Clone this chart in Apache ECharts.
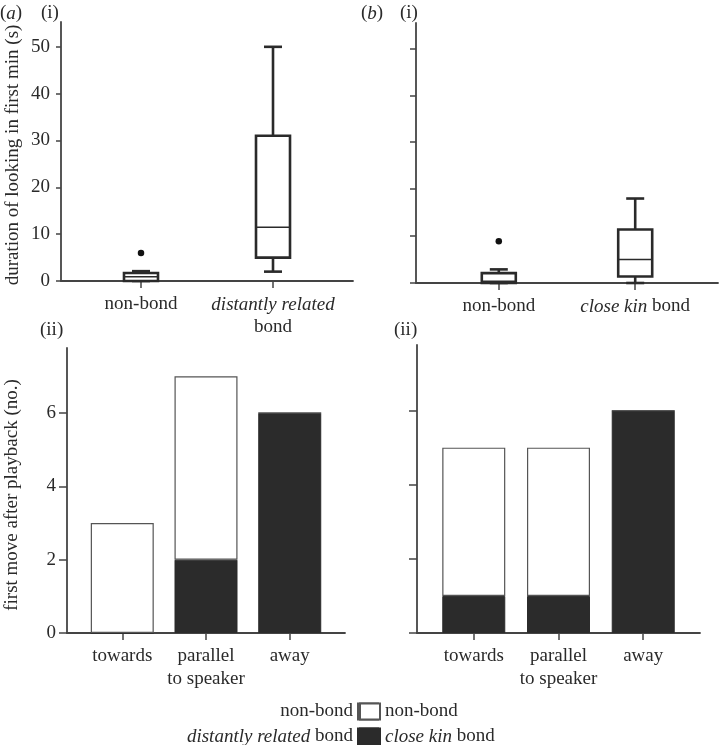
<!DOCTYPE html>
<html>
<head>
<meta charset="utf-8">
<script src="https://cdn.jsdelivr.net/npm/echarts@6/dist/echarts.min.js"></script>
<style>
html,body{margin:0;padding:0;background:#fff;}
#chart{width:719px;height:745px;}
</style>
</head>
<body>
<div id="chart"></div>
<script>
// ---- data ----
// (i) duration of looking in first min (s): [min, Q1, median, Q3, max]
const lookCatsA = ['non-bond', 'distantly related bond'];
const lookNonBondA = [0, 0, 0.9, 1.7, 2.1];
const lookDistantA = [2, 5, 11.5, 31, 50];
const lookOutliersA = [[1, 6]];

const lookCatsB = ['non-bond', 'close kin bond'];
const lookNonBondB = [0, 0, 0.35, 2.1, 2.9];
const lookCloseKinB = [0, 1.4, 5, 11.4, 18];
const lookOutliersB = [[1, 8.9]];

// (ii) first move after playback (no.)
const moveCats = ['towards', 'parallel\nto speaker', 'away'];
const moveNonBondA = [3, 5, 0];
const moveDistantA = [0, 2, 6];
const moveNonBondB = [4, 4, 0];
const moveCloseKinB = [1, 1, 6];

const lookTicks = [0, 10, 20, 30, 40, 50];
const moveTicks = [0, 2, 4, 6];

// ---- styles ----
const FONT = 'Liberation Serif';
const INK = '#2a2a2a';
const AXC = '#444';
const BLACK = '#2b2b2b';
const FS = 19;

function boxData(stats) { return stats.map((s, i) => [i + 1].concat(s)); }
// [value, position] so that the value column is the stacked one
function vp(vals) { return vals.map((v, i) => [v, i + 1]); }

function renderBox(params, api) {
  const x = api.value(0);
  const p = v => api.coord([x, v]);
  const lo = p(api.value(1)), q1 = p(api.value(2)), md = p(api.value(3)), q3 = p(api.value(4)), hi = p(api.value(5));
  const hw = 17, cw = 9;
  const ls = { stroke: INK, lineWidth: 2.6 };
  return {
    type: 'group',
    children: [
      { type: 'line', shape: { x1: lo[0], y1: lo[1], x2: q1[0], y2: q1[1] }, style: ls },
      { type: 'line', shape: { x1: q3[0], y1: q3[1], x2: hi[0], y2: hi[1] }, style: ls },
      { type: 'line', shape: { x1: hi[0] - cw, y1: hi[1], x2: hi[0] + cw, y2: hi[1] }, style: ls },
      { type: 'line', shape: { x1: lo[0] - cw, y1: lo[1], x2: lo[0] + cw, y2: lo[1] }, style: ls },
      { type: 'rect', shape: { x: q3[0] - hw, y: q3[1], width: 2 * hw, height: q1[1] - q3[1] }, style: { fill: '#fff', stroke: INK, lineWidth: 2.6 } },
      { type: 'line', shape: { x1: md[0] - hw, y1: md[1], x2: md[0] + hw, y2: md[1] }, style: { stroke: INK, lineWidth: 1.5 } }
    ]
  };
}

const rich = {
  n: { fontFamily: FONT, fontSize: FS, color: INK, lineHeight: 23 },
  i: { fontFamily: FONT, fontSize: FS, color: INK, fontStyle: 'italic', lineHeight: 23 }
};

function lookLabel(cats) {
  return function (v) {
    const c = cats[Math.round(v) - 1];
    if (c === 'distantly related bond') return '{i|distantly related}\n{n|bond}';
    if (c === 'close kin bond') return '{i|close kin}{n| bond}';
    return '{n|' + c + '}';
  };
}

function xAxisDef(gi, min, max, ticks, fmt) {
  return {
    gridIndex: gi, type: 'value', min: min, max: max,
    splitLine: { show: false },
    axisLine: { show: true, lineStyle: { color: AXC, width: 1.8 } },
    axisTick: { show: true, customValues: ticks, length: 7, lineStyle: { color: AXC, width: 1.5 } },
    axisLabel: { show: true, customValues: ticks, margin: 12, formatter: fmt, rich: rich, color: INK, fontFamily: FONT, fontSize: FS, lineHeight: 23 }
  };
}

function yAxisDef(gi, max, ticks, showLabels, name, nameGap, tickLen, namePad) {
  return {
    gridIndex: gi, type: 'value', min: 0, max: max,
    name: name || '', nameLocation: 'middle', nameGap: nameGap || 0,
    nameTextStyle: { fontFamily: FONT, fontSize: FS, color: INK, padding: namePad || 0 },
    splitLine: { show: false },
    axisLine: { show: true, lineStyle: { color: AXC, width: 1.8 } },
    axisTick: { show: true, customValues: ticks, length: tickLen, lineStyle: { color: AXC, width: 1.5 } },
    axisLabel: { show: showLabels, customValues: ticks, margin: 11, color: INK, fontFamily: FONT, fontSize: FS }
  };
}

function legendItem(name, label, side, top) {
  const l = {
    data: [name], orient: 'horizontal', top: top,
    icon: 'rect', itemWidth: 20, itemHeight: 16,
    formatter: () => label,
    textStyle: { rich: rich, fontFamily: FONT, fontSize: FS, color: INK },
    selectedMode: false, padding: 0
  };
  if (side === 'left') { l.align = 'right'; l.right = 340; } else { l.align = 'left'; l.left = 359; }
  return l;
}

const chart = echarts.init(document.getElementById('chart'), null, { renderer: 'canvas' });

const titleStyle = { fontFamily: FONT, fontSize: FS, fontWeight: 'normal', color: INK,
  rich: { n: { fontFamily: FONT, fontSize: FS, color: INK }, i: { fontFamily: FONT, fontSize: FS, color: INK, fontStyle: 'italic' } } };

const option = {
  backgroundColor: '#fff',
  animation: false,
  title: [
    { text: '{n|(}{i|a}{n|)}', left: 0, top: 4, textStyle: titleStyle, padding: 0 },
    { text: '(i)', left: 41, top: 4, textStyle: titleStyle, padding: 0 },
    { text: '{n|(}{i|b}{n|)}', left: 361, top: 4, textStyle: titleStyle, padding: 0 },
    { text: '(i)', left: 400, top: 4, textStyle: titleStyle, padding: 0 },
    { text: '(ii)', left: 40, top: 321, textStyle: titleStyle, padding: 0 },
    { text: '(ii)', left: 394, top: 321, textStyle: titleStyle, padding: 0 }
  ],
  grid: [
    { left: 61, top: 22, width: 292, height: 259 },
    { left: 416, top: 23, width: 302, height: 260 },
    { left: 67, top: 348, width: 278, height: 285 },
    { left: 417, top: 345, width: 283, height: 288 }
  ],
  xAxis: [
    xAxisDef(0, 0.394, 2.606, [1, 2], lookLabel(lookCatsA)),
    xAxisDef(1, 0.393, 2.607, [1, 2], lookLabel(lookCatsB)),
    xAxisDef(2, 0.34, 3.66, [1, 2, 3], v => moveCats[Math.round(v) - 1]),
    xAxisDef(3, 0.33, 3.67, [1, 2, 3], v => moveCats[Math.round(v) - 1])
  ],
  yAxis: [
    yAxisDef(0, 55.3, lookTicks, true, 'duration of looking in first min (s)', 38, 5, [0, 7, 0, 0]),
    yAxisDef(1, 55.4, lookTicks, false, '', 0, 6),
    yAxisDef(2, 7.77, moveTicks, true, 'first move after playback (no.)', 45, 8, [0, 9, 0, 0]),
    yAxisDef(3, 7.77, moveTicks, false, '', 0, 8)
  ],
  legend: [
    legendItem('non-bond', '{n|non-bond}', 'left', 702),
    legendItem('distantly related bond', '{i|distantly related}{n| bond}', 'left', 727),
    legendItem('non-bond', '{n|non-bond}', 'right', 702),
    legendItem('close kin bond', '{i|close kin}{n| bond}', 'right', 727)
  ],
  series: [
    { type: 'custom', xAxisIndex: 0, yAxisIndex: 0, renderItem: renderBox, data: boxData([lookNonBondA, lookDistantA]), z: 3 },
    { type: 'scatter', xAxisIndex: 0, yAxisIndex: 0, data: lookOutliersA, symbolSize: 6.5, itemStyle: { color: '#111', opacity: 1 }, z: 3 },
    { type: 'custom', xAxisIndex: 1, yAxisIndex: 1, renderItem: renderBox, data: boxData([lookNonBondB, lookCloseKinB]), z: 3 },
    { type: 'scatter', xAxisIndex: 1, yAxisIndex: 1, data: lookOutliersB, symbolSize: 6.5, itemStyle: { color: '#111', opacity: 1 }, z: 3 },

    { name: 'distantly related bond', type: 'bar', xAxisIndex: 2, yAxisIndex: 2, stack: 'a', barWidth: 63,
      encode: { x: 1, y: 0 }, data: vp(moveDistantA), itemStyle: { color: BLACK, borderColor: BLACK, borderWidth: 1 } },
    { name: 'non-bond', type: 'bar', xAxisIndex: 2, yAxisIndex: 2, stack: 'a', barWidth: 63,
      encode: { x: 1, y: 0 }, data: vp(moveNonBondA), itemStyle: { color: '#fff', borderColor: '#555', borderWidth: 1.2 } },
    { name: 'close kin bond', type: 'bar', xAxisIndex: 3, yAxisIndex: 3, stack: 'b', barWidth: 63,
      encode: { x: 1, y: 0 }, data: vp(moveCloseKinB), itemStyle: { color: BLACK, borderColor: BLACK, borderWidth: 1 } },
    { name: 'non-bond', type: 'bar', xAxisIndex: 3, yAxisIndex: 3, stack: 'b', barWidth: 63,
      encode: { x: 1, y: 0 }, data: vp(moveNonBondB), itemStyle: { color: '#fff', borderColor: '#555', borderWidth: 1.2 } }
  ]
};
chart.setOption(option);
</script>
</body>
</html>
